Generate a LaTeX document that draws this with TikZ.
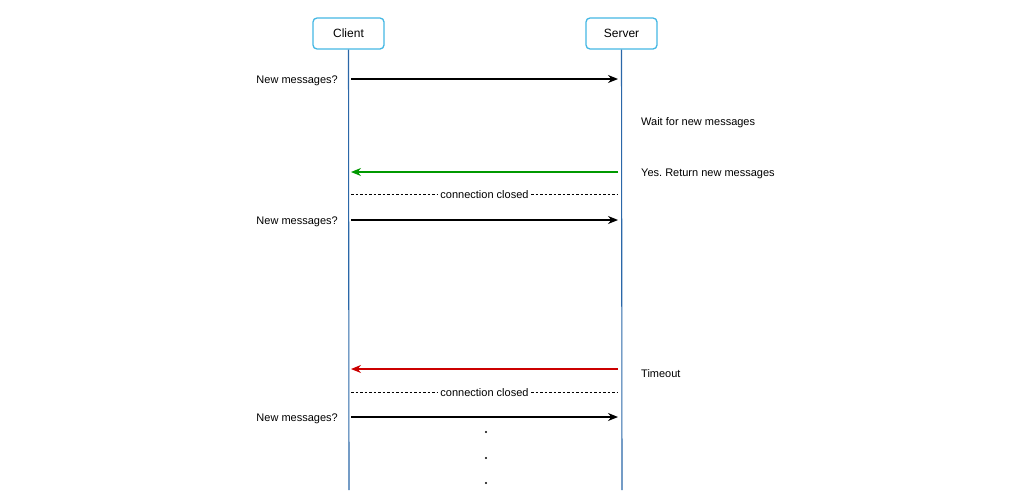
\documentclass[tikz,border=0pt]{standalone}
\usepackage{fontspec}
\setmainfont{Liberation Sans}
\usetikzlibrary{arrows.meta}
\frenchspacing
\begin{document}
\begin{tikzpicture}[x=1pt,y=-1pt,
  actor/.style={draw=boxcyan, line width=1.3pt, rounded corners=4pt, fill=white, minimum width=71pt, minimum height=31pt, inner sep=0pt, font=\fontsize{12}{14}\selectfont},
  life/.style={draw=lifeblue, line width=1.1pt},
  msg/.style={line width=1.2pt, -{Stealth[length=10pt,width=8pt]}},
  closed/.style={dash pattern=on 2.5pt off 2pt, line width=0.6pt},
  lbl/.style={font=\fontsize{11}{13}\selectfont, inner sep=0pt},
]
\definecolor{lifeblue}{HTML}{2A67A8}
\definecolor{boxcyan}{HTML}{45B8E4}
\definecolor{msggreen}{HTML}{009900}
\definecolor{msgred}{HTML}{CC0000}
\useasboundingbox[fill=white] (0,0) rectangle (1009,493);
\node[actor] (client) at (348.5,33.5) {Client};
\node[actor] (server) at (621.5,33.5) {Server};
\coordinate (cend) at (349,490);
\coordinate (send) at (622,490);
\draw[life] (client.south) -- (cend);
\draw[life] (server.south) -- (send);
\foreach \n/\y in {a/79,b/172,c/194,d/220,e/369,f/392,g/417}{
  \coordinate (c\n) at (351,\y);
  \coordinate (s\n) at (618,\y);
}
\draw[msg] (ca) -- (sa);
\node[lbl, anchor=east] (q1) at (338,80.5) {New messages?};
\node[lbl, anchor=west] (w) at (641,122.5) {Wait for new messages};
\draw[msg, draw=msggreen, -{Stealth[length=10pt,width=8pt,fill=msggreen]}] (sb) -- (cb);
\node[lbl, anchor=west] (yes) at (641,173.5) {Yes. Return new messages};
\draw[closed] (cc) -- node[fill=white, font=\fontsize{11}{13}\selectfont, inner sep=2pt, yshift=-1pt] (cl1) {connection closed} (sc);
\draw[msg] (cd) -- (sd);
\node[lbl, anchor=east] (q2) at (338,221.5) {New messages?};
\draw[msg, draw=msgred] (se) -- (ce);
\node[lbl, anchor=west] (to) at (641,373.5) {Timeout};
\draw[closed] (cf) -- node[fill=white, font=\fontsize{11}{13}\selectfont, inner sep=2pt, yshift=-1pt] (cl2) {connection closed} (sf);
\draw[msg] (cg) -- (sg);
\node[lbl, anchor=east] (q3) at (338,418.5) {New messages?};
\foreach \y [count=\i] in {432,458,483}{
  \fill (486,\y) circle (1.2pt) coordinate (dot\i);
}
\end{tikzpicture}
\end{document}
